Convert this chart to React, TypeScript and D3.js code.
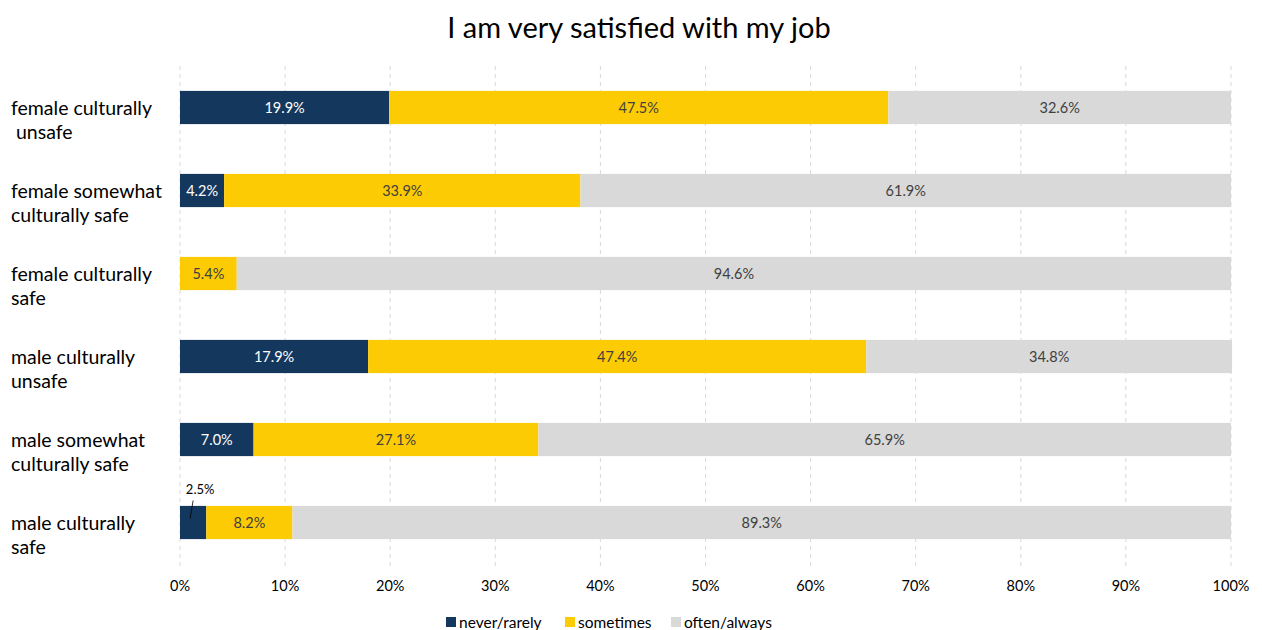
import React from "react";
import * as d3 from "d3";

const categories = [
  ["female culturally", " unsafe"],
  ["female somewhat", "culturally safe"],
  ["female culturally", "safe"],
  ["male culturally", "unsafe"],
  ["male somewhat", "culturally safe"],
  ["male culturally", "safe"],
];
const seriesNames = ["never/rarely", "sometimes", "often/always"];
const neverRarely = [19.9, 4.2, 0, 17.9, 7.0, 2.5];
const sometimes = [47.5, 33.9, 5.4, 47.4, 27.1, 8.2];
const oftenAlways = [32.6, 61.9, 94.6, 34.8, 65.9, 89.3];
const ticks = [0, 10, 20, 30, 40, 50, 60, 70, 80, 90, 100];

const colors = ["#14375E", "#FDCB03", "#D9D9D9"];
const textColors = ["#ffffff", "#404040", "#404040"];
const FONT = "Lato, 'Open Sans', sans-serif";

export default function App() {
  const W = 1262, H = 630;
  const x = d3.scaleLinear().domain([0, 100]).range([180, 1231]);
  const y = d3
    .scaleBand<number>()
    .domain(categories.map((_, i) => i))
    .range([66, 564])
    .paddingInner(0.6)
    .paddingOuter(0.3);
  const series = [neverRarely, sometimes, oftenAlways];
  const bh = y.bandwidth();

  const segs: any[] = [];
  categories.forEach((_, i) => {
    let acc = 0;
    series.forEach((s, k) => {
      const v = s[i];
      if (v > 0) segs.push({ i, k, v, x0: acc, x1: acc + v });
      acc += v;
    });
  });

  return (
    <svg width={W} height={H} style={{ position: "absolute", left: 0, top: 0, background: "#fff" }} fontFamily={FONT}>
      <text x={639} y={38} textAnchor="middle" fontSize={29} fill="#000">
        I am very satisfied with my job
      </text>
      {ticks.map((t) => (
        <g key={t}>
          <line x1={x(t)} x2={x(t)} y1={66} y2={566} stroke="#d9d9d9" strokeWidth={1} strokeDasharray="4,4" />
          <text x={x(t)} y={591} textAnchor="middle" fontSize={14.5} fill="#000">
            {t}%
          </text>
        </g>
      ))}
      {segs.map((s, j) => {
        const x0 = x(s.x0), x1 = x(s.x1);
        const yc = (y(s.i) as number) + bh / 2;
        const small = s.v < 3;
        return (
          <g key={j}>
            <rect x={x0} y={y(s.i)} width={x1 - x0} height={bh} fill={colors[s.k]} />
            {!small && (
              <text x={(x0 + x1) / 2} y={yc + 5} textAnchor="middle" fontSize={14.5} fill={textColors[s.k]}>
                {s.v.toFixed(1)}%
              </text>
            )}
            {small && (
              <g>
                <line x1={(x0 + x1) / 2 - 3} y1={yc - 4} x2={(x0 + x1) / 2} y2={yc - 22} stroke="#000" strokeWidth={0.8} />
                <text x={(x0 + x1) / 2 + 7} y={yc - 29} textAnchor="middle" fontSize={13} fill="#000">
                  {s.v.toFixed(1)}%
                </text>
              </g>
            )}
          </g>
        );
      })}
      {categories.map((lines, i) => {
        const yc = (y(i) as number) + bh / 2;
        return (
          <text key={i} fontSize={19.5} fill="#000" style={{ whiteSpace: "pre" }}>
            {lines.map((l, li) => (
              <tspan key={li} x={11} y={yc + 7 + li * 24}>
                {l}
              </tspan>
            ))}
          </text>
        );
      })}
      {seriesNames.map((n, k) => {
        const lx = [446, 565, 671][k];
        return (
          <g key={n}>
            <rect x={lx} y={617} width={10} height={10} fill={colors[k]} />
            <text x={lx + 13} y={628} fontSize={15.5} fill="#000">
              {n}
            </text>
          </g>
        );
      })}
    </svg>
  );
}
